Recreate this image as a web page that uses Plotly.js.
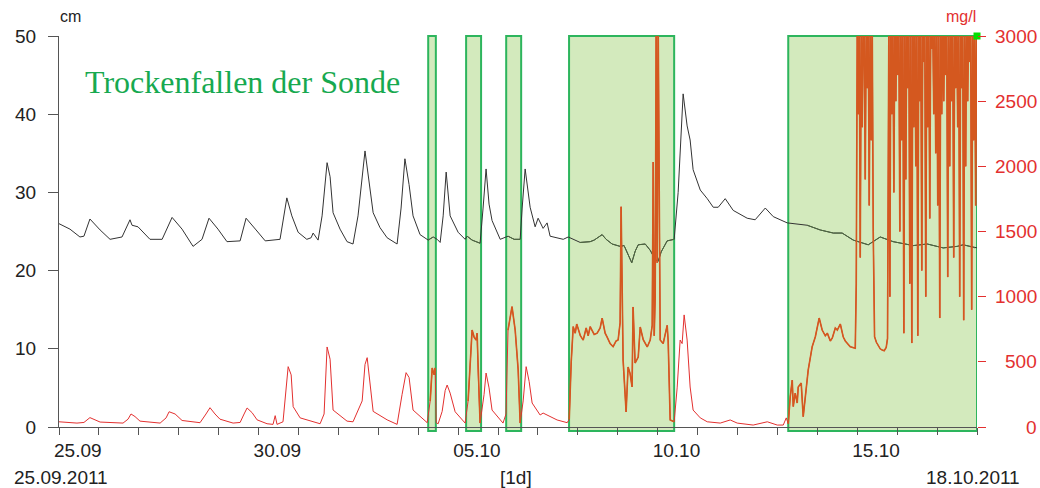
<!DOCTYPE html>
<html>
<head>
<meta charset="utf-8">
<script src="https://cdn.plot.ly/plotly-3.0.1.min.js"></script>
<style>html,body{margin:0;padding:0;background:#fff;}#chart{width:1040px;height:488px;}</style>
</head>
<body>
<div id="chart"></div>
<script>
// ---- Data (hours since 25.09.2011 00:00) ----
const levelHours = [0,6.6,12.6,15,18.6,24.7,30.7,37.9,42.7,43.9,47.5,54.7,62,68,74,80.6,86,90.2,95.6,101,108.9,112.5,118.5,124,132.9,137,140,143.8,149,151.6,152.8,155.8,158.2,161.2,163,164.8,169,173.2,176.8,179.8,184,186.5,188.9,193,197.3,203.3,205.7,208,210.5,212.9,217.1,222,225,227.4,229.2,231,232.8,235.2,240,244.2,245.4,248.4,253.2,255,256.8,258.6,260.4,265.3,270,273.7,277.3,278.5,280.3,283.3,286.3,288.1,291.1,293.5,295.3,303.2,306.2,313.4,319.4,321.8,326.6,329,332.6,337.4,339.8,344.4,346.5,348.3,352.5,355.5,358.5,360.3,362.1,365.7,369.9,372.3,375.3,377.7,379.5,381.3,385.6,389.8,393.4,396.4,400.6,405.4,413.8,418.6,421.7,424.7,429.5,437.9,449.9,457.7,465.6,470.9,477.6,486.6,493.8,501.6,513.7,522.1,531.7,540.1,543.7,550.9,552.2];
const levelCm = [26.0,25.3,24.3,24.4,26.6,25.2,24.0,24.3,26.5,25.8,25.6,24.0,24.0,26.8,25.3,23.1,24.0,26.7,25.3,23.7,23.8,26.7,25.2,23.8,24.0,29.3,27.0,24.9,24.0,24.2,24.8,23.9,27.0,33.8,32.0,27.4,25.3,23.7,23.4,27.0,35.3,31.0,27.4,25.5,24.2,23.4,28.0,34.3,31.0,27.0,24.6,23.9,24.3,24.0,23.6,27.0,32.6,27.0,24.9,24.0,24.4,23.9,23.5,28.0,33.0,28.5,26.4,24.0,24.4,24.0,24.0,28.0,33.0,28.1,25.6,26.7,25.4,26.1,24.4,24.0,24.3,23.6,23.7,23.9,24.6,24.0,23.4,23.1,23.2,21.0,22.5,23.3,23.4,22.6,21.4,21.2,22.4,23.8,24.0,30.0,42.6,38.5,36.7,32.9,30.3,29.2,28.1,28.1,29.2,27.7,26.7,26.5,27.2,28.0,26.9,26.1,25.8,25.2,24.8,24.8,23.9,23.3,24.3,23.7,23.2,23.4,22.9,23.1,23.3,22.9,22.9];

const concHours = [0,10.8,15,18.6,24.7,38.5,41.5,43.3,45.7,48.7,60.8,64.4,66.2,69.8,74,84.8,88.4,90.8,93.8,96.8,104.7,108.9,111.3,113.1,116.1,119.1,125.1,128.7,130,131.1,134.7,136.5,137.8,139.6,140.8,145,151,157,159.4,161.2,163,164.8,173.2,176.8,182.3,184,185.3,187.1,188.9,197.3,203.3,206.3,208.7,210.5,212.9,221.4,223.2,224.4,225.6,226.2,226.8,228,230.4,232.2,233.4,235.2,238.2,244.2,246,248.4,249.6,250.8,251.4,252,253.2,255.6,256.8,258.6,260.4,267,268.8,270,272.4,273.7,274.3,276.1,277.3,279.1,280.9,282.7,284.5,289.3,291.1,299.5,305.6,
  306.8,308,309.2,310.4,311.3,312.2,313.5,315.2,317,318.2,319.4,320.6,321.8,323.6,325.4,326.6,328.4,329.6,331.4,333.2,335,336.2,337.4,338,338.6,339.2,340.4,341,342.2,343.4,344.6,345.2,346.4,348.3,349.5,351.3,353.7,355.5,356.7,357.3,357.9,358.5,359.1,359.7,360.3,361.5,363.3,364.5,365.7,366.3,367.5,369.9,
  371.7,373.5,374.7,375.9,377.7,379.5,381.3,385.6,389.8,397.6,403.6,407.8,417.4,425.9,431.9,435.5,437.3,438.5,
  439.7,440.9,441.5,442.7,443.9,444.5,446.3,447.5,449.3,450.5,452.9,454.8,457.1,458.9,460.8,462,463.8,465,466.8,468,469.8,471.6,472.8,475.8,478.8,
  479.4,480.0,480.6,481.2,481.8,482.4,483.0,483.6,484.2,484.8,485.4,486.0,486.6,487.2,487.8,488.4,489.0,489.6,
  490.4,491.5,492.6,493.8,495,496.2,497.4,498.2,
  499.0,499.6,500.2,500.8,501.4,502.0,502.6,503.2,503.8,504.4,505.0,505.6,506.2,506.8,507.4,508.0,508.6,509.2,509.8,510.4,511.0,511.6,512.2,512.8,513.4,514.0,514.6,515.2,515.8,516.4,517.0,517.6,518.2,518.8,519.4,520.0,520.6,521.2,521.8,522.4,523.0,523.6,524.2,524.8,525.4,526.0,526.6,527.2,527.8,528.4,529.0,529.6,530.2,530.8,531.4,532.0,532.6,533.2,533.8,534.4,535.0,535.6,536.2,536.8,537.4,538.0,538.6,539.2,539.8,540.4,541.0,541.6,542.2,542.8,543.4,544.0,544.6,545.2,545.8,546.4,547.0,547.6,548.2,548.8,549.4,550.0,550.6,551.2,551.8,552.2];
const concMgl = [40,30,35,72,38,30,60,100,80,45,30,70,117,100,50,33,100,148,100,60,30,35,100,146,110,55,25,20,87,20,40,300,463,400,156,70,45,25,100,614,520,130,45,40,200,480,532,300,120,55,20,250,417,380,130,33,200,453,400,453,33,25,120,280,322,260,117,30,200,744,690,667,720,430,30,250,414,300,130,30,100,744,923,800,744,437,30,200,463,350,184,92,107,54,33,
  60,500,770,720,790,744,700,667,760,700,770,740,710,720,760,836,720,690,640,616,660,667,800,1690,900,514,250,115,460,410,307,921,491,537,767,670,614,667,780,2033,700,998,3100,1260,3100,667,640,720,780,660,54,40,
  300,667,640,860,667,307,130,70,40,30,54,30,15,40,15,15,70,25,
  232,360,157,260,184,307,337,79,307,437,616,693,836,744,700,720,660,683,760,744,790,690,660,616,604,
  1100,3100,2400,3100,1300,3100,2300,3100,3000,1900,3100,2600,3100,1700,3100,2200,3100,1500,
  693,650,620,600,590,585,610,680,
  3100,1000,3100,2400,3100,1800,3100,2500,3100,2700,3100,1500,3100,2200,3100,720,3100,1900,3100,2600,3100,1100,3100,644,3100,2300,3100,2000,3100,700,3100,2500,3100,1200,3100,2800,3100,1000,3100,2300,3100,1600,3100,2900,3100,2400,3100,2100,3100,1700,3100,836,3100,2400,3100,2500,3100,2700,3100,1150,3100,2000,3100,2500,3100,1300,3100,2600,3100,2300,3100,1000,3100,2600,3100,820,3100,2000,3100,2500,3100,2800,3100,900,3100,2200,3100,1700,3100,3000];

// Dry periods of the probe (hours since start)
const dryStartH = [222, 244.8, 268.9, 306.7, 438.5];
const dryEndH   = [226.6, 253.8, 277.9, 369.9, 552];

const xLabelDates = ['2011-09-25','2011-09-30','2011-10-05','2011-10-10','2011-10-15'];
const xLabelTexts = ['25.09','30.09','05.10','10.10','15.10'];
const rightTicks = [0,500,1000,1500,2000,2500,3000];
const startDate = '2011-09-25';
const endDate = '2011-10-18';
const noteText = 'Trockenfallen der Sonde';

// ---- helpers ----
const pad = n => String(n).padStart(2,'0');
function toDate(h){
  const d = new Date(Date.UTC(2011,8,25) + Math.round(h*3600000));
  return d.getUTCFullYear()+'-'+pad(d.getUTCMonth()+1)+'-'+pad(d.getUTCDate())+' '+pad(d.getUTCHours())+':'+pad(d.getUTCMinutes());
}
const inDry = h => dryStartH.some((s,i)=> h>=s && h<=dryEndH[i]);
const maskInside = (hs, vs) => vs.map((v,i)=> inDry(hs[i]) ? v : null);

const lx = levelHours.map(toDate);
const cx = concHours.map(toDate);

// daily ticks
const tickVals = [], tickText = [];
for (let d=0; d<=23; d++){
  const ds = toDate(d*24).slice(0,10);
  tickVals.push(ds);
  const k = xLabelDates.indexOf(ds);
  tickText.push(k>=0 ? xLabelTexts[k] : '');
}

const traces = [
  {x:cx, y:concMgl, yaxis:'y2', type:'scatter', mode:'lines', line:{color:'#e3302f', width:1}, hoverinfo:'skip'},
  {x:cx, y:maskInside(concHours, concMgl), yaxis:'y2', type:'scatter', mode:'lines', connectgaps:false, line:{color:'#d4581f', width:1.6}, hoverinfo:'skip'},
  {x:lx, y:levelCm, yaxis:'y', type:'scatter', mode:'lines', line:{color:'#333333', width:1}, hoverinfo:'skip'},
  {x:lx, y:maskInside(levelHours, levelCm), yaxis:'y', type:'scatter', mode:'lines', connectgaps:false, line:{color:'#4e6a40', width:1}, hoverinfo:'skip'},
  {x:[endDate], y:[3000], yaxis:'y2', type:'scatter', mode:'markers', cliponaxis:false, marker:{symbol:'square', size:7, color:'#00e000'}, hoverinfo:'skip'}
];

const shapes = dryStartH.map((s,i)=>({
  type:'rect', layer:'below', xref:'x', yref:'paper',
  x0: toDate(s), x1: toDate(dryEndH[i]), y0:-0.01, y1:1,
  fillcolor:'#d3eabd', line:{color:'#2db55d', width:2}
}));

const annotations = [
  {text:noteText, xref:'paper', yref:'paper', x:0.026, y:0.882, xanchor:'left', yanchor:'middle', showarrow:false,
   font:{family:'Liberation Serif, Times New Roman, serif', size:32, color:'#17a950'}},
  {text:'cm', xref:'paper', yref:'paper', x:0.012, y:1.049, xanchor:'center', yanchor:'middle', showarrow:false, font:{size:16, color:'#222'}},
  {text:'mg/l', xref:'paper', yref:'paper', x:0.983, y:1.051, xanchor:'center', yanchor:'middle', showarrow:false, font:{size:16, color:'#e3302f'}},
  {text:'25.09.2011', xref:'paper', yref:'paper', x:-0.051, y:-0.128, xanchor:'left', yanchor:'middle', showarrow:false, font:{size:19, color:'#222'}},
  {text:'[1d]', xref:'paper', yref:'paper', x:0.498, y:-0.128, xanchor:'center', yanchor:'middle', showarrow:false, font:{size:19, color:'#222'}},
  {text:'18.10.2011', xref:'paper', yref:'paper', x:1.049, y:-0.128, xanchor:'right', yanchor:'middle', showarrow:false, font:{size:19, color:'#222'}}
];
rightTicks.forEach(v=>annotations.push({text:String(v), xref:'paper', yref:'y2', x:1.0675, y:v, xanchor:'right', yanchor:'middle', showarrow:false, font:{size:19, color:'#e3302f'}}));

const layout = {
  width:1040, height:488,
  margin:{l:59, r:63, t:36, b:61},
  paper_bgcolor:'#fff', plot_bgcolor:'#fff',
  showlegend:false,
  font:{family:'Liberation Sans, Arial, sans-serif', size:19, color:'#222'},
  xaxis:{type:'date', range:[startDate, endDate], tickmode:'array', tickvals:tickVals, ticktext:tickText,
    ticks:'outside', ticklen:7, tickcolor:'#555', showline:true, linecolor:'#555', linewidth:1,
    showgrid:false, zeroline:false, ticklabelposition:'outside right', ticklabelshift:-6, ticklabelstandoff:6,
    tickfont:{size:19, color:'#222'}},
  yaxis:{range:[0,50], dtick:10, tick0:0, ticks:'outside', ticklen:10, tickcolor:'#555', showline:true, linecolor:'#555',
    showgrid:false, zeroline:false, tickfont:{size:19, color:'#222'}, ticklabelstandoff:8},
  yaxis2:{range:[0,3000], dtick:500, tick0:0, overlaying:'y', side:'right', ticks:'outside', ticklen:8, tickcolor:'#e3302f',
    showline:false, showgrid:false, zeroline:false, showticklabels:false},
  shapes:shapes,
  annotations:annotations
};

Plotly.newPlot('chart', traces, layout, {staticPlot:true, displayModeBar:false});
</script>
</body>
</html>
